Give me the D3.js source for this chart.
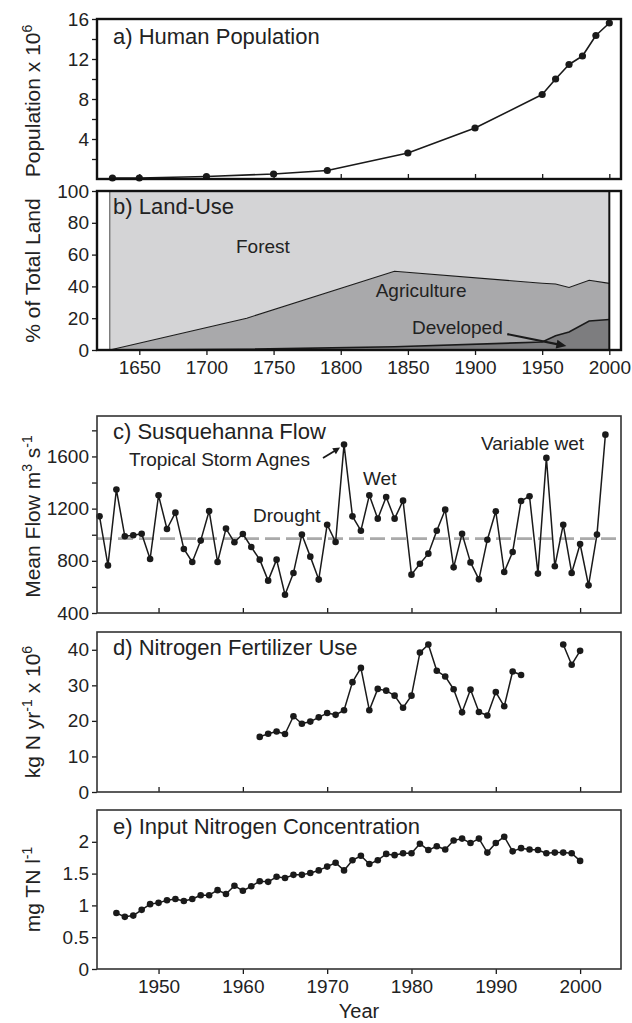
<!DOCTYPE html>
<html><head><meta charset="utf-8">
<script src="https://cdn.jsdelivr.net/npm/d3@7"></script>
<style>
body{margin:0;background:#fff}
svg{display:block}
text{font-family:"Liberation Sans",Arial,Helvetica,sans-serif;fill:#222}
</style>
</head><body>
<svg id="chart" width="632" height="1023"></svg>
<script>
// a) Human population (millions)
const popYears = [1630,1650,1700,1750,1790,1850,1900,1950,1960,1970,1980,1990,2000];
const popValues = [0.1,0.1,0.25,0.5,0.85,2.6,5.1,8.45,10.0,11.45,12.3,14.35,15.6];

// b) Land use, % of total land
const landYears = [1628,1730,1840,1950,1960,1970,1985,2000];
const developedPct = [0,0.5,2,5,9,11.3,18.2,19.2];
const agriculturePct = [0,19.5,47.5,37,32.5,28,25.7,22.7];
const forestPct = [100,80,50.5,58,58.5,60.7,56.1,58.1];

// c) Susquehanna mean annual flow (m3/s)
const flowYears = [1943,1944,1945,1946,1947,1948,1949,1950,1951,1952,1953,1954,1955,1956,1957,1958,1959,1960,1961,1962,1963,1964,1965,1966,1967,1968,1969,1970,1971,1972,1973,1974,1975,1976,1977,1978,1979,1980,1981,1982,1983,1984,1985,1986,1987,1988,1989,1990,1991,1992,1993,1994,1995,1996,1997,1998,1999,2000,2001,2002,2003];
const flowValues = [1141,765,1346,988,996,1008,814,1302,1044,1169,891,791,955,1182,791,1047,942,1006,906,809,648,809,540,707,1001,832,656,1077,944,1691,1141,1031,1302,1123,1289,1123,1261,694,778,855,1031,1192,750,1008,788,658,962,1180,714,868,1259,1295,702,1589,758,1077,707,929,612,1001,1767];
const flowMean = 970;

// d) Nitrogen fertilizer use (kg N/yr x 10^6); null = no record
const fertYears = [1962,1963,1964,1965,1966,1967,1968,1969,1970,1971,1972,1973,1974,1975,1976,1977,1978,1979,1980,1981,1982,1983,1984,1985,1986,1987,1988,1989,1990,1991,1992,1993,1994,1995,1996,1997,1998,1999,2000];
const fertValues = [15.5,16.4,17.0,16.3,21.3,19.2,19.8,21.0,22.2,21.7,23.0,30.9,34.9,23.0,29.0,28.5,27.1,23.7,27.1,39.2,41.5,34.1,32.5,28.9,22.4,28.8,22.5,21.5,28.1,24.1,33.9,32.9,null,null,null,null,41.5,35.8,39.7];

// e) Input total nitrogen concentration (mg/l)
const tnYears = [1945,1946,1947,1948,1949,1950,1951,1952,1953,1954,1955,1956,1957,1958,1959,1960,1961,1962,1963,1964,1965,1966,1967,1968,1969,1970,1971,1972,1973,1974,1975,1976,1977,1978,1979,1980,1981,1982,1983,1984,1985,1986,1987,1988,1989,1990,1991,1992,1993,1994,1995,1996,1997,1998,1999,2000];
const tnValues = [0.88,0.82,0.84,0.93,1.02,1.04,1.08,1.10,1.07,1.10,1.16,1.16,1.24,1.18,1.31,1.23,1.30,1.38,1.37,1.45,1.43,1.48,1.48,1.51,1.55,1.61,1.67,1.55,1.71,1.78,1.65,1.71,1.81,1.79,1.82,1.82,1.97,1.87,1.93,1.88,2.02,2.05,1.98,2.05,1.83,1.98,2.08,1.85,1.90,1.88,1.87,1.82,1.83,1.83,1.82,1.70];

// tick labels
const longYearTicks = [1650,1700,1750,1800,1850,1900,1950,2000];
const shortYearTicks = [1950,1960,1970,1980,1990,2000];
const popTicks = [4,8,12,16], popMinor = [2,6,10,14];
const landTicks = [0,20,40,60,80,100];
const flowTicks = [400,800,1200,1600], flowMinor = [600,1000,1400,1800];
const fertTicks = [0,10,20,30,40];
const tnTicks = [0,0.5,1,1.5,2];

const svg = d3.select("#chart");
const L = 97, R = 621;
const xLong = d3.scaleLinear().domain([1618.5, 2008.7]).range([L, R]);
const xShort = d3.scaleLinear().domain([1942.7, 2004.85]).range([L, R]);

const INK = "#1a1a1a";

function yAxis(g, y, ticks, minor, fmt) {
  const ax = d3.axisLeft(y).tickValues(ticks).tickSize(5).tickPadding(3).tickFormat(fmt || d3.format("~g"));
  const a = g.append("g").attr("transform", `translate(${L},0)`).call(ax);
  a.select(".domain").remove();
  a.selectAll("line").attr("stroke", INK).attr("stroke-width", 1.3);
  a.selectAll("text").style("font-size", "19px").attr("fill", "#222");
  if (minor) {
    g.append("g").attr("transform", `translate(${L},0)`)
      .call(d3.axisLeft(y).tickValues(minor).tickSize(5).tickFormat(""))
      .call(s => { s.select(".domain").remove(); s.selectAll("line").attr("stroke", INK).attr("stroke-width", 1.3); });
  }
}

function xTicksInside(g, x, ticks, bottom) {
  const a = g.append("g").attr("transform", `translate(0,${bottom})`)
    .call(d3.axisTop(x).tickValues(ticks).tickSize(5).tickFormat(""));
  a.select(".domain").remove();
  a.selectAll("line").attr("stroke", INK).attr("stroke-width", 1.3);
}

function xTicksOutside(g, x, ticks, bottom, labelSize) {
  const a = g.append("g").attr("transform", `translate(0,${bottom})`)
    .call(d3.axisBottom(x).tickValues(ticks).tickSize(5).tickPadding(6).tickFormat(d3.format("d")));
  a.select(".domain").remove();
  a.selectAll("line").attr("stroke", INK).attr("stroke-width", 1.3);
  a.selectAll("text").style("font-size", labelSize + "px").attr("fill", "#222");
}

function frame(g, top, bottom, sw, col) {
  g.append("rect").attr("x", L).attr("y", top).attr("width", R - L).attr("height", bottom - top)
    .attr("fill", "none").attr("stroke", col).attr("stroke-width", sw);
}

function panelTitle(g, txt, baseline) {
  g.append("text").attr("x", 113).attr("y", baseline).style("font-size", "22px").text(txt);
}

function yTitle(parts, cy) {
  const t = svg.append("text").attr("transform", `translate(40,${cy}) rotate(-90)`)
    .attr("text-anchor", "middle").style("font-size", "21px");
  parts.forEach(p => {
    const ts = t.append("tspan").text(p.t);
    if (p.sup) ts.attr("dy", -8).style("font-size", "14px");
    else if (p.after) ts.attr("dy", 8);
  });
}

function dots(g, xs, ys, x, y, r) {
  g.selectAll(null).data(xs.map((d, i) => [d, ys[i]]).filter(d => d[1] != null)).join("circle")
    .attr("cx", d => x(d[0])).attr("cy", d => y(d[1])).attr("r", r).attr("fill", INK);
}

function seriesLine(g, xs, ys, x, y, w) {
  const line = d3.line().defined(d => d[1] != null).x(d => x(d[0])).y(d => y(d[1]));
  g.append("path").attr("d", line(xs.map((d, i) => [d, ys[i]])))
    .attr("fill", "none").attr("stroke", INK).attr("stroke-width", w).attr("stroke-linejoin", "round");
}

// ---------- a) Human population ----------
{
  const top = 19, bottom = 179;
  const g = svg.append("g");
  const y = d3.scaleLinear().domain([0, 16]).range([bottom, top]);
  xTicksInside(g, xLong, longYearTicks, bottom);
  seriesLine(g, popYears, popValues, xLong, y, 1.6);
  dots(g, popYears, popValues, xLong, y, 3.6);
  yAxis(g, y, popTicks, popMinor);
  frame(g, top, bottom, 2.4, "#111");
  panelTitle(g, "a) Human Population", 44);
  yTitle([{t: "Population x 10"}, {t: "6", sup: true}], (top + bottom) / 2 + 2);
}

// ---------- b) Land use ----------
{
  const top = 191, bottom = 350;
  const g = svg.append("g");
  const y = d3.scaleLinear().domain([0, 100]).range([bottom, top]);
  const rows = landYears.map((yr, i) => ({year: yr, developed: developedPct[i], agriculture: agriculturePct[i], forest: forestPct[i]}));
  const stack = d3.stack().keys(["developed", "agriculture", "forest"])(rows);
  const fills = {developed: "#7d7d7f", agriculture: "#a9a9ab", forest: "#d4d4d6"};
  const area = d3.area().x(d => xLong(d.data.year)).y0(d => y(d[0])).y1(d => y(d[1]));
  stack.forEach(s => g.append("path").attr("d", area(s)).attr("fill", fills[s.key]));
  const topLine = d3.line().x(d => xLong(d.data.year)).y(d => y(d[1]));
  g.append("path").attr("d", topLine(stack[1])).attr("fill", "none").attr("stroke", INK).attr("stroke-width", 1.1);
  g.append("path").attr("d", topLine(stack[0])).attr("fill", "none").attr("stroke", INK).attr("stroke-width", 1.6);
  // edges of the record
  const first = landYears[0], last = landYears[landYears.length - 1];
  g.append("line").attr("x1", xLong(first)).attr("x2", xLong(first)).attr("y1", top).attr("y2", bottom).attr("stroke", "#666").attr("stroke-width", 1.2);
  g.append("line").attr("x1", xLong(last)).attr("x2", xLong(last)).attr("y1", top).attr("y2", bottom).attr("stroke", "#111").attr("stroke-width", 2);

  g.append("text").attr("x", xLong(1722)).attr("y", y(61)).style("font-size", "19px").text("Forest");
  g.append("text").attr("x", xLong(1826)).attr("y", y(33.5)).style("font-size", "19px").text("Agriculture");
  g.append("text").attr("x", xLong(1853)).attr("y", y(10)).style("font-size", "19px").text("Developed");
  // arrow from label to the developed area
  const ax1 = xLong(1924), ay1 = y(10), ax2 = xLong(1968), ay2 = y(2.5);
  const ang = Math.atan2(ay2 - ay1, ax2 - ax1);
  g.append("line").attr("x1", ax1).attr("y1", ay1).attr("x2", ax2 - 6 * Math.cos(ang)).attr("y2", ay2 - 6 * Math.sin(ang))
    .attr("stroke", INK).attr("stroke-width", 2.2);
  const hl = 10, hw = 4.5;
  const hp = [[ax2, ay2],
    [ax2 - hl * Math.cos(ang) + hw * Math.sin(ang), ay2 - hl * Math.sin(ang) - hw * Math.cos(ang)],
    [ax2 - hl * Math.cos(ang) - hw * Math.sin(ang), ay2 - hl * Math.sin(ang) + hw * Math.cos(ang)]];
  g.append("path").attr("d", d3.line()(hp) + "Z").attr("fill", INK);

  xTicksOutside(g, xLong, longYearTicks, bottom, 19);
  yAxis(g, y, landTicks);
  frame(g, top, bottom, 2.4, "#111");
  panelTitle(g, "b) Land-Use", 214);
  yTitle([{t: "% of Total Land"}], (top + bottom) / 2);
}

// ---------- c) Susquehanna flow ----------
{
  const top = 416, bottom = 613;
  const g = svg.append("g");
  const y = d3.scaleLinear().domain([400, 1910]).range([bottom, top]);
  g.append("line").attr("x1", L).attr("x2", R).attr("y1", y(flowMean)).attr("y2", y(flowMean))
    .attr("stroke", "#aaa").attr("stroke-width", 2.6).attr("stroke-dasharray", "15,6");
  xTicksInside(g, xShort, shortYearTicks, bottom);
  seriesLine(g, flowYears, flowValues, xShort, y, 1.5);
  dots(g, flowYears, flowValues, xShort, y, 3.3);
  yAxis(g, y, flowTicks, flowMinor);
  frame(g, top, bottom, 1.6, "#333");
  panelTitle(g, "c) Susquehanna Flow", 439);

  g.append("text").attr("x", 129).attr("y", 466).style("font-size", "19px").text("Tropical Storm Agnes");
  const sx = 323, sy = 458, ex = xShort(1972) - 4, ey = y(1691) + 3;
  const ang = Math.atan2(ey - sy, ex - sx);
  g.append("line").attr("x1", sx).attr("y1", sy).attr("x2", ex - 4 * Math.cos(ang)).attr("y2", ey - 4 * Math.sin(ang))
    .attr("stroke", INK).attr("stroke-width", 1.8);
  const hl = 7, hw = 3.5;
  g.append("path").attr("d", d3.line()([[ex, ey],
    [ex - hl * Math.cos(ang) + hw * Math.sin(ang), ey - hl * Math.sin(ang) - hw * Math.cos(ang)],
    [ex - hl * Math.cos(ang) - hw * Math.sin(ang), ey - hl * Math.sin(ang) + hw * Math.cos(ang)]]) + "Z").attr("fill", INK);
  g.append("text").attr("x", 363).attr("y", 485).style("font-size", "19px").text("Wet");
  g.append("text").attr("x", 253).attr("y", 522).style("font-size", "19px").text("Drought");
  g.append("text").attr("x", 481).attr("y", 450).style("font-size", "19px").text("Variable wet");

  yTitle([{t: "Mean Flow m"}, {t: "3", sup: true}, {t: " s", after: true}, {t: "-1", sup: true}], (top + bottom) / 2 + 2);
}

// ---------- d) Nitrogen fertilizer ----------
{
  const top = 632, bottom = 792;
  const g = svg.append("g");
  const y = d3.scaleLinear().domain([0, 45]).range([bottom, top]);
  xTicksInside(g, xShort, shortYearTicks, bottom);
  seriesLine(g, fertYears, fertValues, xShort, y, 1.5);
  dots(g, fertYears, fertValues, xShort, y, 3.3);
  yAxis(g, y, fertTicks);
  frame(g, top, bottom, 1.6, "#333");
  panelTitle(g, "d) Nitrogen Fertilizer Use", 655);
  yTitle([{t: "kg N yr"}, {t: "-1", sup: true}, {t: " x 10", after: true}, {t: "6", sup: true}], (top + bottom) / 2);
}

// ---------- e) Input nitrogen concentration ----------
{
  const top = 810, bottom = 969;
  const g = svg.append("g");
  const y = d3.scaleLinear().domain([0, 2.5]).range([bottom, top]);
  seriesLine(g, tnYears, tnValues, xShort, y, 1.5);
  dots(g, tnYears, tnValues, xShort, y, 3.3);
  xTicksOutside(g, xShort, shortYearTicks, bottom, 19);
  yAxis(g, y, tnTicks);
  frame(g, top, bottom, 1.6, "#333");
  panelTitle(g, "e) Input Nitrogen Concentration", 834);
  yTitle([{t: "mg TN l"}, {t: "-1", sup: true}], (top + bottom) / 2);
  svg.append("text").attr("x", (L + R) / 2).attr("y", 1018).attr("text-anchor", "middle").style("font-size", "20px").text("Year");
}
</script>
</body></html>
